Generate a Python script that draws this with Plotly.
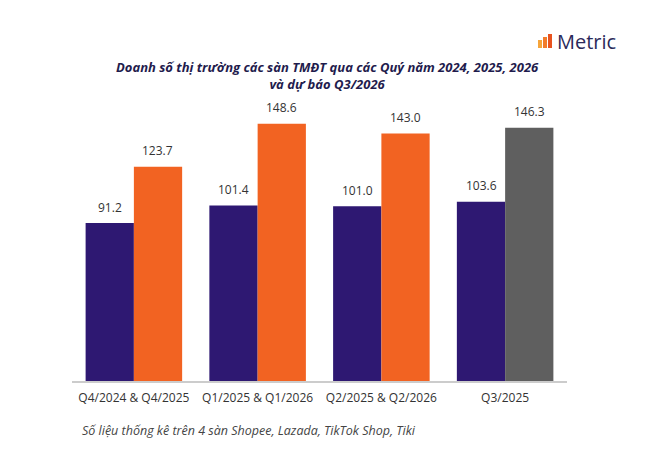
import plotly.graph_objects as go

# Doanh số (nghìn tỷ đồng) theo quý
categories = ["Q4/2024 & Q4/2025", "Q1/2025 & Q1/2026", "Q2/2025 & Q2/2026", "Q3/2025"]
first_period = [91.2, 101.4, 101.0, 103.6]
second_period = [123.7, 148.6, 143.0, 146.3]

NAVY = "#2e1872"
ORANGE = "#f26322"
GRAY = "#5f5f5f"
second_colors = [ORANGE, ORANGE, ORANGE, GRAY]

FONT = "Open Sans"

# plot area in page pixels (page has an 8px body margin)
PX0, PW = 72, 495
PY0, PH = 381, 277


def px(sx):
    return (sx - PX0) / PW


def py(sy):
    return (PY0 - sy) / PH


fig = go.Figure()
fig.add_trace(go.Bar(
    x=categories, y=first_period, marker=dict(color=NAVY, line=dict(width=0)),
    offsetgroup="a", hoverinfo="x+y",
))
fig.add_trace(go.Bar(
    x=categories, y=second_period, marker=dict(color=second_colors, line=dict(width=0)),
    offsetgroup="b", hoverinfo="x+y",
))

# value labels above each bar
half = 24.1
for cat, v in zip(categories, first_period):
    fig.add_annotation(x=cat, y=v, text=f"{v:.1f}", showarrow=False, xshift=-half,
                       yshift=16, font=dict(family=FONT, size=12, color="#333333"))
for cat, v in zip(categories, second_period):
    fig.add_annotation(x=cat, y=v, text=f"{v:.1f}", showarrow=False, xshift=half,
                       yshift=16, font=dict(family=FONT, size=12, color="#333333"))

# title
fig.add_annotation(
    xref="paper", yref="paper", x=px(327), y=py(75), xanchor="center", yanchor="middle",
    text="<b><i>Doanh số thị trường các sàn TMĐT qua các Quý năm 2024, 2025, 2026<br>và dự báo Q3/2026</i></b>",
    showarrow=False, align="center", font=dict(family=FONT, size=13, color="#1f1c4d"),
)

# footnote
fig.add_annotation(
    xref="paper", yref="paper", x=px(80), y=py(430), xanchor="left", yanchor="middle",
    text="<i>Số liệu thống kê trên 4 sàn Shopee, Lazada, TikTok Shop, Tiki</i>",
    showarrow=False, font=dict(family=FONT, size=12.5, color="#444444"),
)

# logo
fig.add_annotation(
    xref="paper", yref="paper", x=px(555), y=py(41), xanchor="left", yanchor="middle",
    text="Metric", showarrow=False, font=dict(family=FONT, size=20, color="#2b2a5a"),
)
for left, top, c in [(538, 40, "#f6a53b"), (543, 37, "#f27c2b"), (548, 34, "#e8531f")]:
    fig.add_shape(type="rect", xref="paper", yref="paper",
                  x0=px(left), x1=px(left + 4), y0=py(48), y1=py(top),
                  fillcolor=c, line_width=0)

fig.update_layout(
    width=652, height=453,
    margin=dict(l=PX0 - 8, r=652 - (PX0 - 8) - PW, t=PY0 - PH - 8, b=453 - (PY0 - 8)),
    paper_bgcolor="white", plot_bgcolor="white",
    barmode="group", bargap=0.22, bargroupgap=0,
    showlegend=False,
    xaxis=dict(
        showline=True, linecolor="#cccccc", linewidth=1.5, ticks="",
        showgrid=False, range=[-0.5, 3.5], ticklabelstandoff=5,
        tickfont=dict(family=FONT, size=12, color="#333333"),
    ),
    yaxis=dict(range=[0, 160], visible=False, showgrid=False, zeroline=False),
)

fig.write_html("out.html")
